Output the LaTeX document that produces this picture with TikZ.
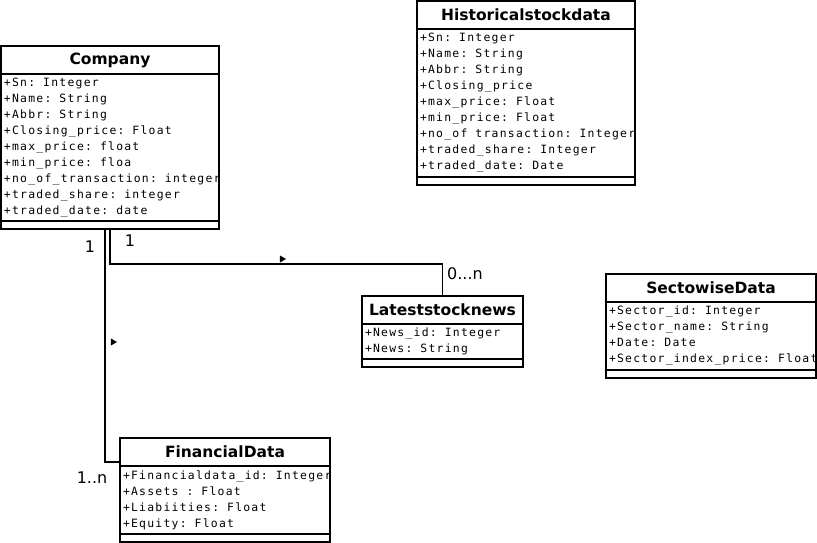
\documentclass[tikz,border=0pt]{standalone}
\usepackage{fontspec}
\setmainfont{DejaVu Sans}
\newfontfamily\attrfont[LetterSpace=11]{DejaVu Sans Mono}
\usetikzlibrary{positioning,shapes.geometric}

\tikzset{
	every node/.style={outer sep=0pt},
	classname/.style={draw, line width=1.6pt, anchor=north west, minimum height=28pt, inner sep=0pt, font=\bfseries\fontsize{15.5}{18}\selectfont},
	attrs/.style={draw, line width=1.6pt, minimum height=#1, inner xsep=3pt, inner ysep=0pt, align=left, font=\attrfont\fontsize{11.4}{16}\selectfont, execute at begin node={\spaceskip=8pt\relax\xspaceskip=8pt\relax\hyphenpenalty=10000\relax\exhyphenpenalty=10000\relax}},
	opbox/.style={draw, line width=1.6pt, minimum height=8pt, inner sep=0pt},
	assoc/.style={line width=1.5pt},
	mult/.style={font=\fontsize{16}{18}\selectfont, inner sep=0pt},
	dirmark/.style={isosceles triangle, isosceles triangle stretches, fill, inner sep=0pt, minimum width=7pt, minimum height=6pt},
}

\begin{document}
\begin{tikzpicture}[x=1pt, y=-1pt]
	\useasboundingbox (0,0) rectangle (817,543);

	% Company
	\node[classname, minimum width=218pt] (cmp) at (1,46) {Company};
	\node[attrs=147pt, text width=212pt, below=0pt of cmp] (cmpAttr) {+Sn: Integer\\+Name: String\\+Abbr: String\\+Closing\_price: Float\\+max\_price: float\\+min\_price: floa\\+no\_of\_transaction:~integer\\+traded\_share: integer\\+traded\_date: date};
	\node[opbox, minimum width=218pt, below=0pt of cmpAttr] (cmpOps) {};

	% Historicalstockdata
	\node[classname, minimum width=218pt] (hist) at (417,1) {Historicalstockdata};
	\node[attrs=148pt, text width=212pt, below=0pt of hist] (histAttr) {+Sn: Integer\\+Name: String\\+Abbr: String\\+Closing\_price\\+max\_price: Float\\+min\_price: Float\\+no\_of~transaction:~Integer\\+traded\_share: Integer\\+traded\_date: Date};
	\node[opbox, minimum width=218pt, below=0pt of histAttr] (histOps) {};

	% Lateststocknews
	\node[classname, minimum width=161pt] (news) at (362,296) {Lateststocknews};
	\node[attrs=35pt, text width=155pt, below=0pt of news] (newsAttr) {+News\_id: Integer\\+News: String};
	\node[opbox, minimum width=161pt, below=0pt of newsAttr] (newsOps) {};

	% SectowiseData
	\node[classname, minimum width=210pt] (sector) at (606,274) {SectowiseData};
	\node[attrs=68pt, text width=204pt, below=0pt of sector] (sectorAttr) {+Sector\_id: Integer\\+Sector\_name: String\\+Date: Date\\+Sector\_index\_price:~Float};
	\node[opbox, minimum width=210pt, below=0pt of sectorAttr] (sectorOps) {};

	% FinancialData
	\node[classname, minimum width=210pt] (fin) at (120,438) {FinancialData};
	\node[attrs=68pt, text width=204pt, below=0pt of fin] (finAttr) {+Financialdata\_id:~Integer\\+Assets : Float\\+Liabiities: Float\\+Equity: Float};
	\node[opbox, minimum width=210pt, below=0pt of finAttr] (finOps) {};

	% associations
	\coordinate (newsbend) at (110,264);
	\draw[assoc] (cmpOps.south) -- (newsbend) -| (news.north);
	\draw[assoc] ([xshift=-5pt]cmpOps.south) |- ([yshift=4pt]fin.south west);

	\node[dirmark] (toNews) at (282,259) {};
	\node[dirmark] (toFin) at (113,342) {};

	\node[mult] (newsFrom) at (130,241) {1};
	\node[mult] (newsTo) at (465,274) {0...n};
	\node[mult] (finFrom) at (90,247) {1};
	\node[mult] (finTo) at (92,478) {1..n};
\end{tikzpicture}
\end{document}
